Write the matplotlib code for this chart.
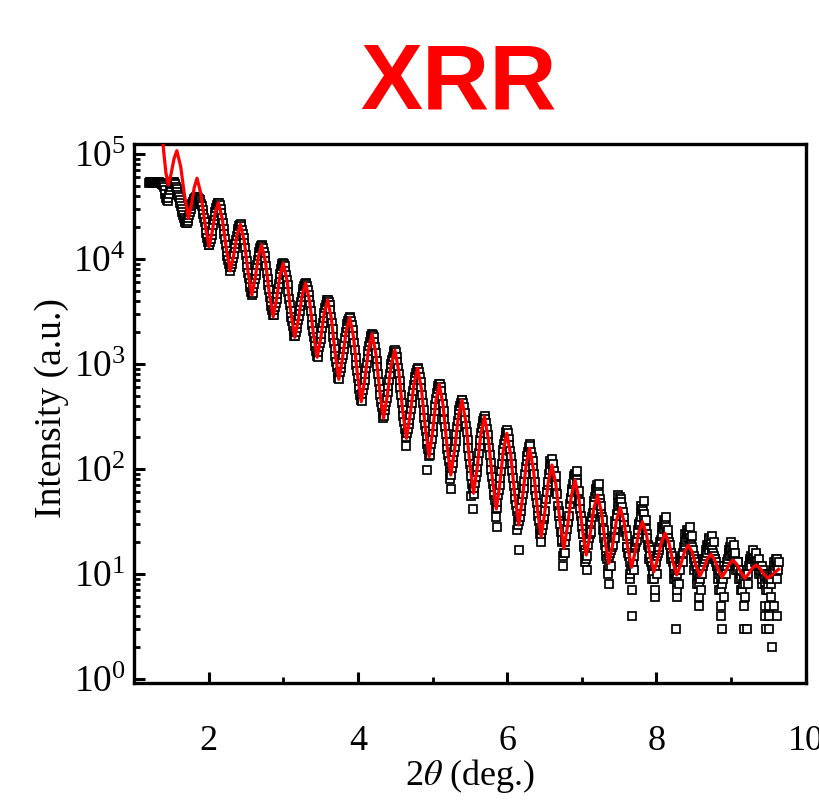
import numpy as np
import matplotlib
matplotlib.use("Agg")
import matplotlib.pyplot as plt
from matplotlib.ticker import LogLocator, MultipleLocator, NullFormatter, LogFormatterMathtext

# ---------------- data ----------------
scan_step = 0.02
# log10(intensity) of measured points, 2theta = 1.20, 1.22 ... 6.48
scan_start = 1.20
scan_log10 = [
    4.72, 4.73, 4.72, 4.73, 4.73, 4.72, 4.73, 4.72, 4.72, 4.71,
    4.69, 4.62, 4.56, 4.58, 4.66, 4.71, 4.73, 4.72, 4.69, 4.64,
    4.59, 4.53, 4.48, 4.42, 4.37, 4.34, 4.36, 4.42, 4.48, 4.52,
    4.55, 4.58, 4.59, 4.58, 4.56, 4.52, 4.47, 4.39, 4.30, 4.20,
    4.13, 4.16, 4.23, 4.32, 4.41, 4.49, 4.52, 4.53, 4.48, 4.39,
    4.29, 4.19, 4.08, 3.99, 3.92, 3.92, 3.98, 4.05, 4.14, 4.22,
    4.29, 4.32, 4.31, 4.24, 4.15, 4.04, 3.92, 3.82, 3.73, 3.66,
    3.72, 3.81, 3.89, 3.99, 4.07, 4.12, 4.12, 4.07, 3.98, 3.87,
    3.75, 3.64, 3.55, 3.47, 3.51, 3.58, 3.67, 3.76, 3.86, 3.93,
    3.96, 3.93, 3.85, 3.75, 3.62, 3.50, 3.41, 3.31, 3.27, 3.34,
    3.42, 3.50, 3.59, 3.68, 3.74, 3.77, 3.74, 3.66, 3.56, 3.43,
    3.31, 3.22, 3.12, 3.07, 3.16, 3.24, 3.34, 3.44, 3.53, 3.59,
    3.61, 3.56, 3.45, 3.33, 3.20, 3.08, 2.97, 2.87, 2.92, 3.00,
    3.09, 3.19, 3.30, 3.38, 3.43, 3.44, 3.37, 3.27, 3.13, 2.99,
    2.87, 2.76, 2.66, 2.71, 2.80, 2.90, 3.01, 3.12, 3.21, 3.27,
    3.28, 3.21, 3.10, 2.97, 2.83, 2.70, 2.59, 2.49, 2.56, 2.64,
    2.73, 2.85, 2.96, 3.04, 3.10, 3.13, 3.07, 2.96, 2.84, 2.70,
    2.56, 2.45, 2.33, 2.34, 2.43, 2.51, 2.63, 2.74, 2.85, 2.91,
    2.96, 2.92, 2.83, 2.70, 2.56, 2.42, 2.30, 2.19, 2.13, 2.24,
    2.35, 2.48, 2.61, 2.72, 2.79, 2.81, 2.74, 2.62, 2.47, 2.33,
    2.19, 2.08, 1.97, 2.01, 2.11, 2.21, 2.33, 2.46, 2.56, 2.63,
    2.66, 2.59, 2.47, 2.35, 2.20, 2.05, 1.93, 1.81, 1.82, 1.92,
    2.02, 2.15, 2.28, 2.39, 2.46, 2.50, 2.44, 2.32, 2.20, 2.06,
    1.92, 1.81, 1.70, 1.63, 1.75, 1.85, 1.98, 2.12, 2.24, 2.31,
    2.37, 2.29, 2.17, 2.05, 1.91, 1.77, 1.66, 1.55, 1.50, 1.60,
    1.70, 1.82, 1.95, 2.08, 2.16, 2.24, 2.16, 2.08, 1.95, 1.80,
    1.68, 1.55, 1.44, 1.38, 1.47,
]
# log10(intensity) of measured points, 2theta = 1.21, 1.23 ... 6.49
scan_mid_start = 1.21
scan_mid_log10 = [
    4.73, 4.72, 4.73, 4.72, 4.73, 4.72, 4.73, 4.72, 4.71, 4.70,
    4.66, 4.58, 4.55, 4.62, 4.69, 4.72, 4.73, 4.71, 4.67, 4.61,
    4.56, 4.50, 4.45, 4.39, 4.35, 4.34, 4.39, 4.45, 4.50, 4.54,
    4.57, 4.59, 4.59, 4.57, 4.54, 4.50, 4.43, 4.35, 4.25, 4.16,
    4.13, 4.19, 4.27, 4.37, 4.45, 4.51, 4.53, 4.51, 4.44, 4.34,
    4.24, 4.13, 4.03, 3.95, 3.89, 3.95, 4.01, 4.10, 4.18, 4.26,
    4.31, 4.33, 4.28, 4.20, 4.10, 3.98, 3.87, 3.77, 3.69, 3.68,
    3.76, 3.85, 3.94, 4.03, 4.10, 4.13, 4.10, 4.03, 3.93, 3.81,
    3.70, 3.60, 3.51, 3.47, 3.54, 3.62, 3.71, 3.81, 3.90, 3.95,
    3.95, 3.89, 3.80, 3.69, 3.56, 3.45, 3.36, 3.27, 3.30, 3.38,
    3.46, 3.55, 3.64, 3.71, 3.76, 3.76, 3.70, 3.61, 3.50, 3.37,
    3.26, 3.17, 3.08, 3.11, 3.20, 3.29, 3.39, 3.49, 3.56, 3.61,
    3.59, 3.51, 3.39, 3.26, 3.14, 3.02, 2.91, 2.86, 2.96, 3.05,
    3.14, 3.25, 3.34, 3.41, 3.45, 3.41, 3.32, 3.20, 3.06, 2.93,
    2.81, 2.70, 2.65, 2.75, 2.85, 2.96, 3.07, 3.17, 3.25, 3.29,
    3.26, 3.16, 3.03, 2.90, 2.76, 2.64, 2.53, 2.50, 2.60, 2.68,
    2.79, 2.90, 3.00, 3.07, 3.12, 3.11, 3.02, 2.90, 2.77, 2.63,
    2.50, 2.38, 2.30, 2.38, 2.47, 2.57, 2.69, 2.80, 2.88, 2.94,
    2.95, 2.88, 2.77, 2.63, 2.49, 2.36, 2.24, 2.12, 2.18, 2.29,
    2.41, 2.55, 2.67, 2.76, 2.81, 2.78, 2.68, 2.55, 2.40, 2.26,
    2.13, 2.02, 1.94, 2.06, 2.16, 2.27, 2.40, 2.51, 2.60, 2.66,
    2.63, 2.53, 2.41, 2.28, 2.12, 1.99, 1.86, 1.76, 1.87, 1.97,
    2.08, 2.22, 2.34, 2.43, 2.49, 2.48, 2.38, 2.26, 2.13, 1.99,
    1.86, 1.75, 1.62, 1.69, 1.80, 1.91, 2.05, 2.18, 2.28, 2.35,
    2.34, 2.23, 2.11, 1.98, 1.84, 1.71, 1.60, 1.47, 1.54, 1.65,
    1.76, 1.89, 2.02, 2.12, 2.21, 2.22, 2.11, 2.01, 1.88, 1.74,
    1.61, 1.50, 1.36, 1.42, 1.52,
]
# counts of measured points, 2theta = 6.50, 6.52 ... 9.64
tail_start = 6.50
tail_counts = [
    35, 52, 61, 90, 98, 125, 108, 80, 70, 44,
    38, 25, 21, 16, 23, 27, 31, 46, 53, 72,
    76, 88, 73, 50, 42, 28, 24, 17, 14, 19,
    22, 25, 35, 40, 54, 58, 66, 52, 38, 33,
    22, 20, 14, 12, 16, 18, 19, 27, 30, 41,
    44, 52, 43, 34, 25, 23, 16, 13, 11, 14,
    15, 19, 21, 26, 31, 35, 40, 33, 27, 22,
    18, 15, 12, 10, 12, 13, 16, 18, 21, 24,
    27, 30, 25, 22, 19, 14, 13, 12, 9, 10,
    12, 11, 15, 16, 19, 21, 22, 24, 20, 18,
    15, 13, 11, 10, 9, 11, 12, 13, 15, 16,
    17, 19, 18, 16, 14, 13, 11, 10, 9, 8,
    10, 11, 12, 14, 15, 17, 16, 14, 13, 12,
    11, 10, 9, 8, 9, 10, 11, 12, 13, 14,
    15, 13, 14, 12, 11, 10, 9, 10, 8, 9,
    8, 10, 9, 11, 12, 13, 12, 13,
]
# counts of measured points, 2theta = 6.51, 6.53 ... 9.63
tail_mid_start = 6.51
tail_mid_counts = [
    40, 60, 70, 102, 112, 102, 95, 62, 58, 36,
    30, 25, 15, 20, 23, 32, 36, 52, 65, 80,
    90, 78, 62, 48, 36, 24, 18, 16, 15, 22,
    24, 31, 38, 50, 64, 70, 58, 47, 35, 26,
    19, 17, 11, 15, 17, 21, 23, 32, 37, 48,
    54, 45, 39, 28, 26, 18, 15, 10, 12, 13,
    18, 20, 24, 29, 38, 42, 37, 30, 24, 19,
    17, 13, 11, 9, 14, 15, 17, 20, 23, 28,
    32, 28, 23, 20, 16, 15, 11, 10, 8, 11,
    13, 14, 13, 18, 20, 24, 25, 22, 19, 17,
    14, 12, 9, 8, 10, 10, 14, 14, 17, 18,
    21, 20, 17, 15, 14, 12, 9, 11, 7, 9,
    12, 10, 13, 16, 18, 15, 18, 15, 11, 13,
    9, 11, 7, 9, 8, 11, 10, 14, 12, 16,
    14, 15, 13, 10, 12, 8, 11, 9, 7, 10,
    9, 8, 10, 13, 11, 14, 12,
]
# additional scattered measured points (2theta, counts)
extra_x = [4.64, 4.93, 5.23, 5.25, 5.52, 5.54, 5.85, 5.86, 6.13, 6.16, 6.44, 6.46,
           6.58, 6.62, 6.55, 6.65, 6.69, 6.73, 6.75, 6.77,
           6.89, 6.93, 6.87, 6.96, 7.00, 7.03, 7.05, 7.07,
           7.19, 7.23, 7.17, 7.26, 7.30, 7.33, 7.35, 7.36, 7.39,
           7.49, 7.53, 7.47, 7.57, 7.44, 7.60, 7.64, 7.67, 7.67, 7.70,
           7.79, 7.83, 7.77, 7.86, 7.90, 7.94, 7.98, 7.98, 8.01,
           8.10, 8.13, 8.08, 8.16, 8.19, 8.23, 8.26, 8.27, 8.27, 8.30,
           8.41, 8.45, 8.39, 8.48, 8.51, 8.55, 8.57, 8.57, 8.60,
           8.70, 8.74, 8.68, 8.77, 8.81, 8.84, 8.86, 8.87, 8.88, 8.90,
           9.00, 9.04, 8.97, 9.06, 9.10, 9.13, 9.17, 9.17, 9.21, 9.19, 9.23,
           9.30, 9.34, 9.27, 9.37, 9.41, 9.45, 9.45, 9.47, 9.49, 9.51, 9.51, 9.51, 9.55, 9.53,
           9.58, 9.60, 9.62, 9.63, 9.61]
extra_counts = [166, 98, 80, 65, 55, 42, 35, 28, 26, 17, 24, 20,
                118, 112, 75, 86, 40, 20, 12, 16,
                86, 95, 60, 62, 32, 19, 13, 11,
                62, 72, 45, 44, 26, 15, 10, 8, 12,
                56, 48, 36, 29, 22, 18, 9, 7, 4, 11,
                44, 50, 30, 33, 14, 9, 6, 7, 10,
                33, 35, 28, 26, 16, 9, 3, 6, 7, 8,
                26, 28, 24, 23, 11, 8, 5, 6, 7,
                22, 23, 19, 20, 12, 7, 4, 5, 3, 6,
                20, 19, 17, 16, 13, 7, 3, 5, 3, 6, 8,
                17, 16, 15, 14, 12, 5, 4, 3, 7, 5, 4, 3, 2, 6,
                5, 14, 4, 11, 9]

# fitted curve: 2theta and log10(intensity)
fit_x = [1.365, 1.397, 1.428, 1.460, 1.498, 1.536, 1.574, 1.626, 1.678, 1.730,
         1.768, 1.807, 1.845, 1.898, 1.952, 2.005, 2.047, 2.088, 2.130, 2.183,
         2.237, 2.290, 2.335, 2.380, 2.425, 2.477, 2.528, 2.580, 2.623, 2.667,
         2.710, 2.762, 2.813, 2.865, 2.910, 2.955, 3.000, 3.052, 3.103, 3.155,
         3.203, 3.252, 3.300, 3.352, 3.403, 3.455, 3.502, 3.548, 3.595, 3.645,
         3.695, 3.745, 3.793, 3.842, 3.890, 3.942, 3.993, 4.045, 4.093, 4.142,
         4.190, 4.241, 4.292, 4.343, 4.394, 4.444, 4.495, 4.547, 4.598, 4.650,
         4.700, 4.750, 4.800, 4.852, 4.903, 4.955, 5.000, 5.045, 5.090, 5.142,
         5.193, 5.245, 5.295, 5.345, 5.395, 5.447, 5.498, 5.550, 5.598, 5.647,
         5.695, 5.748, 5.802, 5.855, 5.902, 5.948, 5.995, 6.048, 6.102, 6.155,
         6.203, 6.252, 6.300, 6.352, 6.403, 6.455, 6.503, 6.552, 6.600, 6.653,
         6.707, 6.760, 6.810, 6.860, 6.910, 6.960, 7.010, 7.060, 7.110, 7.160,
         7.210, 7.261, 7.311, 7.362, 7.413, 7.464, 7.515, 7.566, 7.616, 7.667,
         7.715, 7.764, 7.812, 7.864, 7.915, 7.967, 8.017, 8.067, 8.117, 8.169,
         8.220, 8.272, 8.324, 8.376, 8.428, 8.480, 8.531, 8.583, 8.632, 8.681,
         8.730, 8.779, 8.829, 8.878, 8.927, 8.976, 9.025, 9.078, 9.132, 9.185,
         9.235, 9.285, 9.335, 9.387, 9.440, 9.492, 9.541, 9.590, 9.638]
fit_log10 = [5.30, 5.03, 4.82, 4.705, 4.813, 4.954, 5.031, 4.880, 4.600, 4.388,
             4.514, 4.679, 4.769, 4.616, 4.332, 4.117, 4.255, 4.438, 4.536, 4.383,
             4.100, 3.886, 4.033, 4.226, 4.330, 4.172, 3.879, 3.657, 3.814, 4.021,
             4.133, 3.972, 3.675, 3.450, 3.618, 3.839, 3.959, 3.793, 3.487, 3.254,
             3.424, 3.648, 3.769, 3.603, 3.297, 3.064, 3.244, 3.482, 3.610, 3.432,
             3.103, 2.854, 3.049, 3.306, 3.445, 3.256, 2.906, 2.641, 2.854, 3.134,
             3.286, 3.097, 2.748, 2.483, 2.698, 2.980, 3.133, 2.935, 2.570, 2.292,
             2.512, 2.802, 2.959, 2.761, 2.395, 2.117, 2.346, 2.647, 2.810, 2.606,
             2.229, 1.943, 2.179, 2.489, 2.657, 2.448, 2.062, 1.769, 2.010, 2.327,
             2.498, 2.291, 1.909, 1.619, 1.857, 2.171, 2.340, 2.135, 1.755, 1.467,
             1.708, 2.025, 2.197, 1.999, 1.633, 1.355, 1.580, 1.877, 2.038, 1.852,
             1.507, 1.245, 1.460, 1.742, 1.895, 1.727, 1.417, 1.181, 1.369, 1.618,
             1.752, 1.599, 1.316, 1.102, 1.277, 1.508, 1.633, 1.499, 1.252, 1.064,
             1.207, 1.396, 1.498, 1.386, 1.179, 1.022, 1.143, 1.302, 1.388, 1.294,
             1.121, 0.990, 1.084, 1.209, 1.276, 1.207, 1.078, 0.981, 1.050, 1.141,
             1.190, 1.138, 1.042, 0.969, 1.023, 1.094, 1.133, 1.092, 1.016, 0.959,
             1.001, 1.056, 1.086, 1.056, 1.001, 0.959, 0.985, 1.018, 1.045]

x_ticks = [2, 4, 6, 8, 10]

# ---------------- figure ----------------
plt.rcParams["font.family"] = ["Liberation Serif", "DejaVu Serif"]
plt.rcParams["mathtext.fontset"] = "stix"

fig = plt.figure(figsize=(8.2, 8.08), dpi=100)
ax = fig.add_axes([0.1634, 0.1547, 0.8191, 0.6671])


def grid(start, n):
    return start + scan_step * np.arange(n)


xs = [grid(scan_start, len(scan_log10)), grid(scan_mid_start, len(scan_mid_log10)),
      grid(tail_start, len(tail_counts)), grid(tail_mid_start, len(tail_mid_counts)),
      np.array(extra_x)]
ys = [10.0 ** np.array(scan_log10), 10.0 ** np.array(scan_mid_log10),
      np.array(tail_counts, float), np.array(tail_mid_counts, float),
      np.array(extra_counts, float)]
all_x = np.concatenate(xs)
all_y = np.concatenate(ys)
order = np.argsort(all_x, kind="stable")

ax.plot(all_x[order], all_y[order], ls="none", marker="s", ms=6.3, mfc="white",
        mec="black", mew=1.25, zorder=2)
ax.plot(fit_x, 10.0 ** np.array(fit_log10), color="#ff0000", lw=2.3, zorder=3,
        solid_joinstyle="round")

ax.set_yscale("log")
ax.set_xlim(1.0, 10.0)
ax.set_ylim(0.916, 1.245e5)

ax.xaxis.set_major_locator(plt.FixedLocator(x_ticks))
ax.xaxis.set_minor_locator(MultipleLocator(1))
ax.yaxis.set_major_locator(LogLocator(base=10, numticks=10))
ax.yaxis.set_minor_locator(LogLocator(base=10, subs=np.arange(2, 10), numticks=20))
ax.yaxis.set_major_formatter(LogFormatterMathtext())
ax.yaxis.set_minor_formatter(NullFormatter())

ax.tick_params(axis="both", which="major", direction="in", length=8, width=2.2,
               labelsize=26, top=False, right=False)
ax.tick_params(axis="y", which="major", pad=6, labelsize=27)
ax.tick_params(axis="x", which="major", pad=30)
ax.tick_params(axis="both", which="minor", direction="in", length=4.5, width=2.0,
               top=False, right=False)
for sp in ax.spines.values():
    sp.set_linewidth(2.4)

ax.set_xlabel(r"2$\theta$ (deg.)", fontsize=26, va="center")
ax.xaxis.set_label_coords(0.5, -0.172)
ax.set_ylabel("Intensity (a.u.)", fontsize=27, va="center")
ax.yaxis.set_label_coords(-0.122, 0.51)

fig.text(0.559, 0.896, "XRR", color="#ff0000", fontsize=67, fontweight="bold",
         family=["Liberation Sans", "DejaVu Sans"], ha="center", va="center")

fig.savefig("out.png", dpi=100)
